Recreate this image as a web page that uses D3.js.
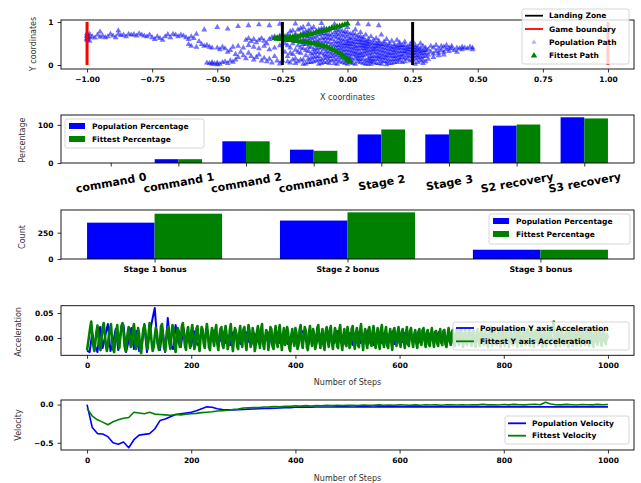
<!DOCTYPE html>
<html lang="en">
<head>
<meta charset="UTF-8">
<title>Lander run summary</title>
<script src="https://d3js.org/d3.v7.min.js"></script>
<style>
  body { margin: 0; background: #fff; }
  svg { display: block; font-family: "DejaVu Sans", sans-serif; }
  .tick-label { font-size: 7.5px; font-weight: bold; fill: #000; }
  .axis-label { font-size: 8px; fill: #333; }
  .legend text { font-size: 7.5px; font-weight: bold; fill: #000; }
</style>
</head>
<body>
<script>
// ---------- data ----------

// panel 1: positions, stored as [x*100, y*100]
var populationPath = [
  [-100,58],[-100,62],[-100,66],[-100,70],[-100,74],[-100,60],[-100,68],[-99,64],[-99,72],[-99,56],
  [-98,66],[-97,63],[-96,70],[-95,77],[-95,65],[-94,68],[-93,64],[-92,66],[-91,72],[-90,68],
  [-89,64],[-88,72],[-88,80],[-87,69],[-86,70],[-85,66],[-84,72],[-83,70],[-82,71],[-81,68],
  [-80,73],[-79,70],[-78,68],[-77,66],[-76,70],[-75,64],[-74,60],[-73,66],[-72,62],[-71,58],
  [-70,66],[-69,71],[-68,64],[-67,72],[-66,70],[-65,66],[-64,70],[-63,68],[-62,64],[-61,60],
  [-60,66],[-59,62],[-58,72],[-61,48],[-60,44],[-58,42],
  [-57,55],[-56,48],[-55,44],[-54,46],[-53,42],[-52,40],[-50,40],[-49,36],[-48,42],[-47,38],
  [-46,30],[-45,34],[-44,42],
  [-54,5],[-53,4],[-52,6],[-51,3],[-50,5],[-49,2],[-48,6],[-47,8],[-46,4],[-45,10],[-44,7],
  [-43,12],[-50,1],[-52,2],
  [-50,88],[-46,84],[-42,90],[-38,92],[-34,94],[-30,92],[-26,95],[-20,96],[-15,94],[-10,97],
  [-5,95],[4,96],[8,94],[12,92],[-55,82],
  [-43,25],[-42,18],[-41,30],[-40,22],[-39,15],[-38,28],[-37,20],[-36,12],[-35,18],[-34,24],
  [-33,10],[-32,16],[-31,8],[-30,14],[-29,5],[-28,20],[-27,10],[-26,3],
  [-39,58],[-38,62],[-37,55],[-36,60],[-35,52],[-34,58],[-33,62],[-32,56],[-31,50],[-30,60],
  [-29,64],[-28,66],[-27,62],[-26,68],[-25,64],
  [-42,44],[-40,40],[-38,46],[-36,42],[-34,38],[-32,44],[-30,36],[-28,40],[-26,45],
  [-25,10],[-24,30],[-24,50],[-23,20],[-23,70],[-22,5],[-22,40],[-22,60],[-21,25],[-21,80],
  [-20,15],[-20,35],[-20,55],[-20,72],
  [-19,8],[-19,45],[-19,65],[-18,28],[-18,52],[-18,85],[-17,12],[-17,38],[-17,60],[-17,75],
  [-16,3],[-16,22],[-16,48],[-16,68],[-15,32],[-15,58],[-15,80],[-15,14],
  [-14,6],[-14,26],[-14,42],[-14,62],[-14,74],[-13,18],[-13,36],[-13,54],[-13,88],[-12,10],
  [-12,30],[-12,46],[-12,66],[-12,78],[-11,2],[-11,20],[-11,40],[-11,58],[-11,70],[-10,12],
  [-10,28],[-10,50],[-10,62],[-10,84],
  [-9,6],[-9,24],[-9,36],[-9,56],[-9,74],[-8,16],[-8,32],[-8,44],[-8,64],[-8,80],
  [-7,4],[-7,20],[-7,40],[-7,52],[-7,70],[-6,10],[-6,28],[-6,48],[-6,60],[-6,86],
  [-5,14],[-5,34],[-5,44],[-5,66],[-5,76],
  [-4,2],[-4,22],[-4,38],[-4,54],[-4,72],[-3,8],[-3,30],[-3,46],[-3,62],[-3,82],
  [-2,16],[-2,26],[-2,42],[-2,58],[-2,68],[-1,4],[-1,20],[-1,36],[-1,50],[-1,78],
  [0,10],[0,28],[0,44],[0,56],[0,66],[0,88],
  [1,6],[1,18],[1,34],[1,48],[1,62],[2,12],[2,24],[2,40],[2,54],[2,74],
  [3,2],[3,30],[3,44],[3,60],[3,82],[4,8],[4,20],[4,36],[4,52],[4,68],
  [5,14],[5,28],[5,46],[5,58],[5,76],
  [6,4],[6,22],[6,38],[6,50],[6,64],[7,10],[7,32],[7,44],[7,56],[7,70],
  [8,2],[8,16],[8,26],[8,48],[8,60],[9,8],[9,20],[9,36],[9,52],[9,66],
  [10,12],[10,30],[10,42],[10,58],
  [11,4],[11,22],[11,38],[11,50],[11,62],[12,14],[12,28],[12,44],[12,56],[13,2],
  [13,18],[13,34],[13,48],[13,70],[14,8],[14,24],[14,40],[14,54],[15,1],[15,16],
  [15,30],[15,46],[15,60],
  [16,4],[16,22],[16,36],[16,50],[17,12],[17,28],[17,42],[17,56],[18,6],[18,20],
  [18,34],[18,48],[19,14],[19,30],[19,44],[19,58],[20,10],[20,24],[20,40],[20,52],
  [21,18],[21,32],[21,46],[22,8],[22,26],[22,38],[22,54],[23,14],[23,30],[23,42],
  [24,20],[24,36],[24,48],[25,12],[25,28],[25,40],[25,56],
  [26,2],[26,22],[26,34],[26,46],[27,6],[27,16],[27,30],[27,42],[28,10],[28,26],
  [28,38],[28,50],[29,4],[29,20],[29,34],[29,44],[30,8],[30,28],[30,40],
  [31,24],[31,36],[32,30],[32,44],[33,26],[33,40],[34,32],[34,46],[35,28],[35,38],
  [36,34],[36,44],[37,30],[37,42],[38,36],[38,46],[39,32],[39,40],[40,38],[40,44],
  [41,34],[42,40],[42,30],[43,38],[44,36],[44,42],[45,40],[46,38],[47,42],[48,40],
  [48,36],[31,14],[33,18],[35,22],[37,24],
  // second pass over the dense core
  [-23,45],[-23,8],[-22,28],[-22,78],[-21,50],[-21,12],[-20,62],[-20,4],[-19,30],[-19,82],
  [-18,40],[-18,12],[-18,70],[-17,2],[-17,48],[-17,88],[-16,34],[-16,58],[-16,78],[-15,6],
  [-15,42],[-15,66],[-14,16],[-14,50],[-14,84],[-13,28],[-13,64],[-13,8],[-12,20],[-12,56],
  [-12,38],[-11,30],[-11,50],[-11,82],[-11,12],[-10,4],[-10,40],[-10,72],[-9,16],[-9,46],
  [-9,64],[-9,86],[-8,6],[-8,24],[-8,54],[-8,72],[-7,12],[-7,30],[-7,62],[-7,80],
  [-6,20],[-6,38],[-6,70],[-5,4],[-5,24],[-5,54],[-5,86],[-4,12],[-4,30],[-4,46],
  [-4,64],[-4,80],[-3,18],[-3,38],[-3,54],[-3,72],[-2,6],[-2,34],[-2,50],[-2,78],
  [-1,12],[-1,28],[-1,44],[-1,60],[-1,70],[0,2],[0,20],[0,36],[0,50],[0,76],
  [1,12],[1,26],[1,42],[1,56],[1,72],[2,4],[2,32],[2,48],[2,64],[3,16],
  [3,24],[3,38],[3,52],[3,70],[4,14],[4,28],[4,44],[4,60],[5,6],[5,22],
  [5,38],[5,52],[5,66],[6,14],[6,30],[6,44],[6,58],[7,2],[7,24],[7,38],
  [7,50],[8,10],[8,34],[8,42],[8,54],[9,2],[9,14],[9,28],[9,44],[10,6],
  [10,20],[10,36],[10,50],[11,14],[11,30],[11,44],[12,4],[12,20],[12,36],[12,50],
  [13,10],[13,26],[13,42],[14,16],[14,32],[14,48],[15,8],[15,22],[15,38],[16,12],
  [16,28],[16,44],[17,4],[17,20],[17,36],[18,14],[18,28],[18,42],[19,6],[19,22],
  [19,38],[20,16],[20,32],[20,46],[21,6],[21,24],[21,40],[22,16],[22,32],[22,46],
  [23,22],[23,36],[24,10],[24,28],[24,42],[25,20],[25,34],[26,14],[26,28],[26,40],
  [27,22],[27,36],[28,18],[28,32],[29,12],[29,28],[30,20],[30,34]
];

var fittestPath = [
  [-28,62],[-27,63],[-26,64],[-25,63],[-24,65],[-23,64],[-22,66],[-21,65],[-20,67],[-19,66],
  [-18,68],[-17,70],[-16,69],[-15,72],[-14,71],[-13,74],[-12,76],[-11,77],[-10,79],[-9,80],
  [-8,82],[-7,84],[-6,86],[-5,87],[-4,89],[-3,90],[-2,92],[-1,94],[0,96],
  [-27,61],[-26,60],[-25,60],[-24,59],[-23,58],[-22,58],[-21,57],[-20,56],[-19,56],[-18,55],
  [-17,54],[-16,53],[-15,52],[-14,51],[-13,50],[-12,49],[-11,47],[-10,46],[-9,44],[-8,42],
  [-7,40],[-6,37],[-5,34],[-4,31],[-3,27],[-2,23],[-1,18],[0,14],[0,10],[1,8]
];

var landingZone = [-0.25, 0.25];
var gameBoundary = [-1, 1];

// panel 2
var commandLabels = ["command 0", "command 1", "command 2", "command 3",
                     "Stage 2", "Stage 3", "S2 recovery", "S3 recovery"];
var commandPop = [0, 10, 57, 35, 75, 75, 98, 120];
var commandFit = [0, 10, 57, 32, 88, 88, 101, 117];

// panel 3
var bonusLabels = ["Stage 1 bonus", "Stage 2 bonus", "Stage 3 bonus"];
var bonusPop = [345, 365, 88];
var bonusFit = [430, 443, 88];

// panel 4: Y acceleration in thousandths, population every 5 steps
var accPop = [
  -25,-28,10,-15,-28,22,-20,5,28,-26,-10,18,-24,12,26,-28,-5,20,-22,14,-26,
  -18,28,-28,8,35,60,-10,-24,18,-28,40,-14,-22,26,-8,-18,20,-12,8,-16,
  14,-10,-16,18,-4,12,-14,6,16,-12,-6,14,-10,4,-14,10,16,-8,-12,8,
  12,-6,-14,10,4,-12,14,-8,-2,12,-14,6,10,-10,-4,14,-12,2,10,-8,
  -12,8,14,-6,-14,10,2,-12,12,-8,-14,6,12,-4,-10,14,-6,-12,8,-10,
  10,-14,4,12,-10,-6,14,-12,8,-14,2,12,-8,-14,10,-4,12,-12,6,-10,
  -8,10,-12,6,-4,12,-10,-6,8,-12,4,10,-8,-2,12,-10,6,-6,8,-8,
  6,-8,-4,8,-6,4,-8,6,2,-6,8,-4,-6,6,-2,8,-8,4,-4,6,
  -6,4,8,-4,-6,6,-2,8,-8,4,2,-6,6,-4,-2,8,-6,4,-4,6,
  -4,6,-8,2,6,-4,-6,8,-2,4,-6,6,-4,2,-8,6,-2,4,-4,0
];
// fittest every 2 steps
var accFit = [
  -25,-10,5,20,33,8,-15,-26,-8,12,25,4,-18,-24,2,22,30,10,-12,-26,-14,6,18,28,-4,
  -22,-28,-6,14,26,-10,-20,4,24,30,12,-16,-26,-8,10,22,-2,-18,-12,16,28,6,-22,-14,20,
  8,-24,-30,-2,18,26,14,-12,-22,6,30,16,-8,-26,-18,4,20,12,-14,-24,-6,24,28,2,-20,
  -26,-4,16,22,-10,-22,8,26,18,-14,-28,-2,20,14,-18,-8,24,30,6,-16,-24,10,22,-6,-20,
  12,26,4,-22,-14,18,24,-8,-26,0,22,16,-12,-20,8,28,10,-18,-24,6,20,-4,-16,14,26,
  -10,-24,2,18,22,-14,-20,10,24,6,-22,-12,16,28,-6,-26,-2,20,12,-16,-22,8,24,-4,-18,
  16,22,-8,-24,4,26,14,-18,-10,20,6,-26,-14,12,24,-2,-20,18,28,-12,-22,2,16,10,-24,
  -6,22,18,-16,-22,8,24,-10,-18,14,26,-4,-24,6,20,-14,-8,22,12,-20,-26,4,18,-6,-16,
  20,10,-22,-14,16,26,-8,-20,4,22,14,-18,-24,10,24,-2,-16,18,8,-22,-12,20,26,-6,-20,
  6,18,-14,-24,12,22,-4,-18,16,24,-10,-22,2,20,10,-16,-20,14,26,-8,-24,4,18,-12,-16,
  22,8,-20,-12,18,24,-6,-22,10,20,-14,-18,14,28,-2,-24,6,18,-10,-20,16,22,-8,-16,12,
  24,-4,-20,8,20,-12,-22,16,26,-6,-18,10,22,-14,-20,4,18,-8,-24,14,20,-2,-16,10,22,
  -10,-18,12,18,-6,-20,8,22,-12,-16,14,20,-4,-18,6,16,-10,-20,12,18,-8,-14,16,20,-6,
  -18,10,16,-12,-16,8,20,-4,-18,12,14,-10,-16,6,18,-8,-14,14,16,-12,-18,4,20,-6,-14,
  12,16,-10,-16,8,18,-4,-14,14,20,-8,-18,6,16,-12,-14,10,18,-6,-16,12,14,-10,-18,8,
  18,-6,-16,12,20,-8,-14,10,16,-12,-18,6,22,-4,-16,14,18,-10,-14,8,20,-6,-18,12,16,
  -8,-16,14,20,-4,-18,10,16,-12,-14,8,22,-6,-18,12,18,-10,-16,6,20,-8,-14,14,18,-4,
  -16,10,20,-10,-18,12,16,-6,-14,14,22,-8,-18,6,18,-12,-16,10,20,-4,-14,16,24,33,-10,
  -18,8,18,-6,-16,12,20,-10,-14,6,16,-8,-18,14,20,-4,-16,10,18,-12,-14,8,16,-6,-16,
  12,18,-8,-14,10,20,-6,-16,14,16,-10,-18,6,18,-4,-14,12,20,-8,-16,10,14,-6,-12,8,
  0
];

// panel 5: velocity every 10 steps, in thousandths
var velPop = [
  0,-300,-380,-385,-420,-500,-520,-490,-565,-460,
  -400,-390,-380,-320,-210,-190,-160,-130,-120,-110,
  -100,-80,-55,-30,-35,-55,-66,-70,-70,-68,
  -65,-60,-58,-55,-52,-50,-48,-45,-42,-40,
  -35,-34,-33,-33,-32,-32,-31,-31,-30,-30,
  -30,-31,-30,-29,-30,-31,-30,-29,-30,-30,
  -30,-29,-30,-30,-29,-30,-30,-29,-30,-30,
  -29,-30,-30,-29,-30,-30,-29,-30,-30,-29,
  -30,-30,-29,-30,-30,-29,-30,-30,-29,-30,
  -30,-29,-30,-30,-29,-30,-30,-29,-30,-30,-30
];
var velFit = [
  -50,-150,-200,-230,-265,-225,-200,-180,-170,-100,
  -110,-120,-100,-125,-130,-135,-140,-130,-135,-125,
  -120,-115,-105,-100,-95,-85,-80,-75,-65,-60,
  -45,-42,-38,-40,-32,-30,-26,-30,-22,-24,
  -16,-20,-14,-18,-12,-16,-10,-14,-8,-12,
  -10,-8,-12,-6,-10,-8,-4,-10,-6,-8,
  -4,-6,-10,-4,-8,-2,-6,-4,-8,-2,
  -4,-6,-2,-6,-2,-4,2,-4,-2,-6,
  0,-4,2,-2,-4,0,4,-2,30,8,
  -2,-4,2,-2,-6,0,-2,-4,2,-2,0
];

// ---------- layout ----------
var W = 641, H = 483;
var L = 61, R = 634;
var blue = "#0000ff", green = "#008000";

var svg = d3.select("body").append("svg")
    .attr("width", W)
    .attr("height", H);

function frame(top, bottom) {
  svg.append("rect")
      .attr("x", L).attr("y", top)
      .attr("width", R - L).attr("height", bottom - top)
      .attr("fill", "none").attr("stroke", "#000").attr("stroke-width", 0.9);
}

function styleAxis(g) {
  g.attr("font-size", null).attr("font-family", null);
  g.select(".domain").remove();
  g.selectAll(".tick line").attr("stroke", "#000").attr("stroke-width", 0.8);
  g.selectAll(".tick text").attr("class", "tick-label");
  return g;
}

function xAxis(x, y, ticks, fmt) {
  return styleAxis(svg.append("g")
      .attr("transform", "translate(0," + y + ")")
      .call(d3.axisBottom(x).tickValues(ticks).tickFormat(fmt).tickSize(3.5).tickPadding(4)));
}

function yAxis(y, ticks, fmt) {
  return styleAxis(svg.append("g")
      .attr("transform", "translate(" + L + ",0)")
      .call(d3.axisLeft(y).tickValues(ticks).tickFormat(fmt).tickSize(3.5).tickPadding(4)));
}

function xLabel(text, cy) {
  svg.append("text").attr("class", "axis-label")
      .attr("x", (L + R) / 2).attr("y", cy)
      .attr("text-anchor", "middle").attr("dominant-baseline", "central")
      .text(text);
}

function yLabel(text, cx, cy) {
  svg.append("text").attr("class", "axis-label")
      .attr("transform", "translate(" + cx + "," + cy + ") rotate(-90)")
      .attr("text-anchor", "middle").attr("dominant-baseline", "central")
      .text(text);
}

var tri = d3.symbol().type(d3.symbolTriangle);

function legend(x, y, w, h, firstY, rowH, items) {
  var g = svg.append("g").attr("class", "legend");
  g.append("rect")
      .attr("x", x).attr("y", y).attr("width", w).attr("height", h).attr("rx", 2)
      .attr("fill", "#fff").attr("fill-opacity", 0.8)
      .attr("stroke", "#ccc").attr("stroke-width", 0.8);
  items.forEach(function(it, i) {
    var cy = firstY + i * rowH;
    if (it.kind === "line") {
      g.append("line").attr("x1", x + 3).attr("x2", x + 21).attr("y1", cy).attr("y2", cy)
          .attr("stroke", it.color).attr("stroke-width", 1.8);
    } else if (it.kind === "patch") {
      g.append("rect").attr("x", x + 4).attr("y", cy - 3).attr("width", 16).attr("height", 6)
          .attr("fill", it.color);
    } else {
      g.append("path").attr("d", tri.size(it.size)())
          .attr("transform", "translate(" + (x + 12) + "," + cy + ")")
          .attr("fill", it.color).attr("fill-opacity", it.alpha);
    }
    g.append("text").attr("x", x + 27).attr("y", cy)
        .attr("dominant-baseline", "central").text(it.label);
  });
}

// matplotlib-like padded domain
function padded(lo, hi) {
  var p = (hi - lo) * 0.05;
  return [lo - p, hi + p];
}

// ---------- panel 1: paths ----------
(function() {
  var top = 20, bottom = 69;
  var x = d3.scaleLinear().domain([-1.1, 1.1]).range([L, R]);
  var y = d3.scaleLinear().domain([-0.093, 1.047]).range([bottom, top]);

  svg.append("g").selectAll("path")
    .data(populationPath)
    .join("path")
      .attr("d", tri.size(15)())
      .attr("transform", function(d) { return "translate(" + x(d[0] / 100) + "," + y(d[1] / 100) + ")"; })
      .attr("fill", blue).attr("fill-opacity", 0.55);

  svg.append("g").selectAll("path")
    .data(fittestPath)
    .join("path")
      .attr("d", tri.size(18)())
      .attr("transform", function(d) { return "translate(" + x(d[0] / 100) + "," + y(d[1] / 100) + ")"; })
      .attr("fill", green);

  landingZone.forEach(function(v) {
    svg.append("line").attr("x1", x(v)).attr("x2", x(v)).attr("y1", y(0)).attr("y2", y(1))
        .attr("stroke", "#000").attr("stroke-width", 3);
  });
  gameBoundary.forEach(function(v) {
    svg.append("line").attr("x1", x(v)).attr("x2", x(v)).attr("y1", y(0)).attr("y2", y(1))
        .attr("stroke", "#ff0000").attr("stroke-width", 3);
  });

  frame(top, bottom);
  xAxis(x, bottom, [-1, -0.75, -0.5, -0.25, 0, 0.25, 0.5, 0.75, 1], d3.format(".2f"));
  yAxis(y, [0, 1], d3.format("d"));
  xLabel("X coordinates", 97);
  yLabel("Y coordinates", 33, 44);

  legend(522, 9, 107, 55, 15.7, 13.3, [
    { kind: "line", color: "#000", label: "Landing Zone" },
    { kind: "line", color: "#ff0000", label: "Game boundary" },
    { kind: "tri", color: blue, alpha: 0.3, size: 12, label: "Population Path" },
    { kind: "tri", color: green, alpha: 1, size: 18, label: "Fittest Path" }
  ]);
})();

// grouped bars helper
function groupedBars(top, bottom, labels, pop, fit) {
  var bw = 0.35, n = labels.length;
  var x = d3.scaleLinear().domain(padded(-bw, n - 1 + bw)).range([L, R]);
  var y = d3.scaleLinear().domain([0, d3.max(pop.concat(fit)) * 1.05]).range([bottom, top]);
  var g = svg.append("g");
  g.selectAll("rect.pop").data(pop).join("rect").attr("class", "pop")
      .attr("x", function(d, i) { return x(i - bw); })
      .attr("width", x(bw) - x(0))
      .attr("y", function(d) { return y(d); })
      .attr("height", function(d) { return y(0) - y(d); })
      .attr("fill", blue);
  g.selectAll("rect.fit").data(fit).join("rect").attr("class", "fit")
      .attr("x", function(d, i) { return x(i); })
      .attr("width", x(bw) - x(0))
      .attr("y", function(d) { return y(d); })
      .attr("height", function(d) { return y(0) - y(d); })
      .attr("fill", green);
  frame(top, bottom);
  var ax = xAxis(x, bottom, d3.range(n), function(i) { return labels[i]; });
  return { x: x, y: y, ax: ax };
}

// ---------- panel 2: command percentages ----------
(function() {
  var p = groupedBars(115, 163, commandLabels, commandPop, commandFit);
  p.ax.selectAll(".tick text")
      .style("font-size", "11px")
      .attr("y", 20).attr("dy", null)
      .attr("dominant-baseline", "central")
      .attr("transform", "rotate(-10,0,20)");
  yAxis(p.y, [0, 100], d3.format("d"));
  yLabel("Percentage", 22, 140);
  legend(65, 119, 139, 29, 126, 13, [
    { kind: "patch", color: blue, label: "Population Percentage" },
    { kind: "patch", color: green, label: "Fittest Percentage" }
  ]);
})();

// ---------- panel 3: stage bonus counts ----------
(function() {
  var p = groupedBars(210, 259, bonusLabels, bonusPop, bonusFit);
  p.ax.selectAll(".tick text").style("font-size", "7.8px");
  yAxis(p.y, [0, 250], d3.format("d"));
  yLabel("Count", 22, 237);
  legend(489, 214, 141, 30, 221, 13, [
    { kind: "patch", color: blue, label: "Population Percentage" },
    { kind: "patch", color: green, label: "Fittest Percentage" }
  ]);
})();

// line panel helper
function linePanel(top, bottom, stepPop, stepFit, pop, fit, yTicks, yFmt, lwPop, lwFit) {
  var x = d3.scaleLinear().domain([-50, 1050]).range([L, R]);
  var all = pop.concat(fit).map(function(v) { return v / 1000; });
  var y = d3.scaleLinear().domain(padded(d3.min(all), d3.max(all))).range([bottom, top]);
  function lineFor(step) {
    return d3.line()
        .x(function(d, i) { return x(i * step); })
        .y(function(d) { return y(d / 1000); });
  }
  svg.append("path").datum(pop).attr("d", lineFor(stepPop))
      .attr("fill", "none").attr("stroke", blue).attr("stroke-width", lwPop)
      .attr("stroke-linejoin", "round");
  svg.append("path").datum(fit).attr("d", lineFor(stepFit))
      .attr("fill", "none").attr("stroke", green).attr("stroke-width", lwFit)
      .attr("stroke-linejoin", "round");
  frame(top, bottom);
  xAxis(x, bottom, [0, 200, 400, 600, 800, 1000], d3.format("d"));
  yAxis(y, yTicks, yFmt);
}

// ---------- panel 4: acceleration ----------
linePanel(305.7, 355.3, 5, 2, accPop, accFit, [0, 0.05], d3.format(".2f"), 2, 2.6);
xLabel("Number of Steps", 382);
yLabel("Acceleration", 18, 332);
legend(453, 322, 176, 28, 328, 13.3, [
  { kind: "line", color: blue, label: "Population Y axis Acceleration" },
  { kind: "line", color: green, label: "Fittest Y axis Acceleration" }
]);

// ---------- panel 5: velocity ----------
linePanel(400, 450, 10, 10, velPop, velFit, [-0.5, 0], d3.format(".1f"), 1.6, 1.6);
xLabel("Number of Steps", 478);
yLabel("Velocity", 18, 425);
legend(505, 416, 124, 28, 423.3, 12.4, [
  { kind: "line", color: blue, label: "Population Velocity" },
  { kind: "line", color: green, label: "Fittest Velocity" }
]);
</script>
</body>
</html>
